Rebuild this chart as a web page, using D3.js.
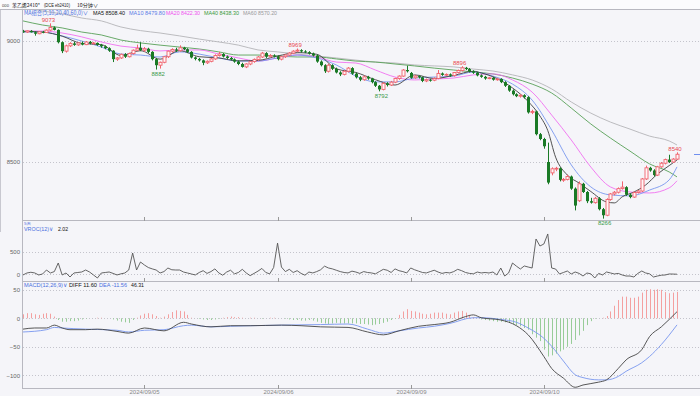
<!DOCTYPE html>
<html><head><meta charset="utf-8">
<script src="https://cdn.jsdelivr.net/npm/d3@7"></script>
<style>
body{margin:0;background:#fff;}
svg{display:block;}
text{font-family:"Liberation Sans",Arial,sans-serif;}
</style>
</head><body><svg id="c" width="700" height="396"></svg>
<script>
// ---------------- DATA ----------------
const opens=[9040,9037,9042,9036,9030,9038,9035,9045,9056,9046,
8995,8958,8980,8990,8984,8992,8985,8996,8990,8992,
8984,8978,8970,8960,8925,8930,8945,8935,8948,8962,
8972,8962,8968,8955,8925,8900,8912,8935,8958,8965,
8960,8972,8966,8955,8932,8926,8920,8910,8916,8926,
8940,8946,8936,8930,8924,8915,8905,8893,8905,8915,
8924,8934,8950,8935,8940,8937,8925,8935,8942,8950,
8958,8962,8957,8954,8948,8940,8915,8900,8875,8900,
8885,8870,8862,8875,8888,8865,8850,8840,8852,8845,
8830,8815,8800,8825,8818,8830,8845,8855,8880,8868,
8848,8855,8850,8835,8840,8838,8845,8866,8860,8862,
8857,8870,8878,8889,8884,8875,8869,8858,8852,8845,
8848,8840,8843,8830,8815,8795,8780,8772,8776,8768,
8705,8709,8615,8595,8500,8455,8472,8474,8426,8428,
8440,8390,8340,8410,8376,8338,8332,8350,8305,8280,
8345,8368,8375,8390,8396,8365,8355,8374,8380,8430,
8476,8465,8446,8480,8495,8510,8500,8512];
const highs=[9046,9044,9045,9040,9040,9042,9048,9073,9060,9048,
8998,8985,8995,8996,8995,8998,9000,9000,8996,8994,
8988,8982,8974,8962,8934,8948,8950,8952,8965,8985,
8995,8975,8972,8958,8930,8915,8938,8960,8970,8972,
8982,8976,8970,8958,8936,8930,8924,8920,8930,8945,
8955,8950,8940,8934,8928,8920,8910,8908,8918,8928,
8938,8955,8954,8946,8945,8940,8938,8946,8954,8962,
8969,8966,8962,8958,8952,8944,8920,8904,8906,8904,
8890,8875,8880,8892,8892,8870,8855,8858,8856,8848,
8834,8818,8830,8830,8835,8848,8858,8884,8898,8872,
8860,8858,8853,8845,8844,8850,8880,8870,8866,8866,
8872,8882,8896,8893,8888,8879,8873,8862,8856,8852,
8852,8848,8846,8834,8818,8800,8784,8780,8780,8772,
8716,8712,8620,8600,8580,8478,8480,8478,8434,8448,
8444,8395,8420,8414,8380,8352,8356,8355,8310,8350,
8372,8380,8395,8420,8400,8370,8378,8384,8434,8485,
8480,8470,8484,8500,8514,8530,8516,8540];
const lows=[9034,9033,9035,9022,9028,9032,9033,9042,9044,8990,
8950,8952,8975,8980,8980,8982,8983,8986,8985,8980,
8972,8966,8955,8913,8918,8926,8930,8932,8944,8958,
8958,8955,8950,8920,8882,8886,8908,8930,8952,8955,
8956,8962,8950,8928,8920,8915,8900,8905,8912,8922,
8936,8932,8926,8920,8910,8900,8890,8888,8900,8910,
8918,8930,8930,8932,8932,8920,8920,8930,8938,8946,
8954,8952,8950,8944,8936,8910,8895,8868,8870,8880,
8866,8855,8858,8870,8860,8845,8834,8836,8840,8825,
8810,8792,8796,8812,8814,8826,8840,8852,8870,8844,
8844,8845,8830,8830,8832,8834,8842,8856,8855,8852,
8853,8866,8874,8880,8870,8864,8854,8848,8840,8842,
8836,8836,8826,8810,8790,8775,8768,8766,8762,8700,
8698,8610,8590,8555,8408,8445,8462,8420,8418,8424,
8385,8300,8335,8372,8330,8328,8328,8300,8266,8276,
8340,8362,8370,8386,8360,8350,8352,8370,8376,8426,
8460,8440,8442,8476,8490,8496,8496,8508];
const closes=[9037,9042,9036,9030,9038,9035,9045,9056,9046,8995,
8958,8980,8990,8984,8992,8985,8996,8990,8992,8984,
8978,8970,8960,8925,8930,8945,8935,8948,8962,8970,
8962,8968,8955,8925,8900,8912,8935,8958,8965,8960,
8972,8966,8955,8932,8926,8920,8910,8916,8926,8940,
8946,8936,8930,8924,8915,8905,8893,8905,8915,8924,
8934,8950,8935,8940,8937,8925,8935,8942,8950,8958,
8962,8957,8954,8948,8940,8915,8900,8875,8900,8885,
8870,8862,8875,8888,8865,8850,8840,8852,8845,8830,
8815,8800,8825,8818,8830,8845,8855,8880,8875,8848,
8855,8850,8835,8840,8838,8845,8866,8860,8862,8857,
8870,8878,8889,8884,8875,8869,8858,8852,8845,8848,
8840,8843,8830,8815,8795,8780,8772,8776,8768,8705,
8709,8615,8595,8565,8415,8472,8474,8426,8428,8440,
8390,8320,8410,8376,8338,8332,8350,8305,8280,8345,
8368,8375,8390,8396,8365,8355,8374,8380,8430,8476,
8465,8446,8480,8495,8510,8500,8512,8532];

// moving averages at these bar indices
const maIdx=[0,5,10,15,20,25,30,35,40,45,50,55,60,65,70,75,80,85,90,95,100,105,110,115,120,125,130,135,140,145,150,155,160,165,167];
const ma10=[9037,9037,9021,9000,8975,8946,8942,8934,8955,8946,8930,8917,8917,8930,8942,8930,8901,8855,8831,8831,8847,8851,8855,8872,8855,8822,8756,8632,8488,8397,8364,8360,8384,8426,8479.8];
const ma20=[9041,9041,9033,9017,8996,8979,8971,8959,8963,8963,8946,8930,8917,8930,8942,8934,8913,8909,8880,8851,8839,8843,8847,8860,8864,8839,8789,8694,8591,8479,8397,8376,8372,8393,8422.3];
const ma40=[9083,9066,9054,9037,9025,9004,8992,8983,8975,8967,8955,8942,8942,8938,8934,8934,8926,8917,8913,8905,8897,8888,8880,8872,8864,8847,8822,8785,8723,8657,8599,8545,8492,8459,8438.3];
const ma60=[9140,9124,9112,9095,9083,9058,9043,9033,9021,9008,8996,8983,8963,8955,8946,8938,8930,8921,8913,8909,8901,8897,8893,8884,8876,8860,8839,8802,8748,8702,8665,8636,8607,8587,8570.2];
// MA5 read at its own (denser) points: [bar index, value]
const ma5Pts=[[0,9040],[5,9037],[10,9020],[15,8990],[20,8985],[25,8940],[30,8960],[35,8925],[40,8960],[45,8935],[50,8930],[55,8918],[60,8920],[65,8938],[70,8952],[75,8945],[80,8885],[85,8870],[90,8840],[95,8818],[100,8860],[105,8845],[110,8858],[115,8875],[117,8868],[121,8845],[125,8806],[129,8750],[132,8690],[134,8630],[136,8520],[139,8446],[142,8413],[145,8378],[149,8335],[151,8331],[153,8356],[156,8376],[159,8405],[162,8450],[165,8485],[167,8508.4]];

const vroc=[-15,29,45,30,-15,7,95,29,60,250,
-15,29,-60,29,40,51,95,50,-15,-82,
29,40,51,20,-15,10,29,95,471,95,
272,206,150,120,95,29,60,139,100,95,
95,50,29,7,-15,40,80,20,60,120,
30,-20,50,90,10,40,110,30,-30,20,
70,130,40,10,150,690,160,60,110,40,
80,20,-20,50,30,60,100,180,140,120,
90,60,40,30,70,50,20,60,40,30,
10,60,110,90,40,120,80,60,30,140,
100,70,40,30,60,90,50,20,40,30,
60,110,80,40,20,10,50,30,40,29,
51,-15,139,-38,29,250,180,117,184,161,
139,781,626,670,892,139,117,7,40,73,
7,51,20,-38,29,10,-82,20,-15,51,
30,7,20,-15,-38,-38,-60,20,73,29,
10,-60,-38,-20,-15,7,5,2.02];

const macdHist=[7,9,9,7,6,8,9,8,3,-3,
-6,-6,-5,-5,-4,-2,-1,0,0,1,
1,0,0,-2,-4,-6,-7,-8,-3,1,
5,8,9,7,4,1,3,7,11,14,
13,12,6,1,0,-1,-2,-3,-3,-2,
-1,1,2,3,2,2,1,0,1,1,
0,-1,0,1,1,0,0,-1,-2,-3,
-3,-4,-4,-3,-4,-6,-8,-9,-10,-9,
-8,-9,-9,-9,-9,-9,-10,-10,-11,-12,
-11,-10,-8,-6,-3,-1,6,12,16,13,
12,10,8,7,8,10,10,10,8,7,
10,12,13,10,6,2,0,-2,-3,-4,
-5,-6,-6,-7,-8,-10,-12,-14,-17,-20,
-28,-34,-40,-55,-67,-65,-62,-58,-55,-50,
-45,-38,-30,-22,-12,-5,-1,0,1,4,
12,22,32,38,38,36,36,38,45,50,
51,50,51,50,46,44,45,46.31];

const diffPts=[[0,-19],[3,-17],[6,-17],[8,-12],[10,-17],[12,-20],[16,-20],[19,-19],[24,-23],[27,-26],[31,-17],[36,-22],[41,-7],[43,-10],[48,-15],[53,-13],[58,-13],[66,-12],[71,-13],[76,-15],[83,-16],[88,-24],[92,-29],[96,-22],[101,-14],[105,-11],[109,-7],[113,3],[115,6],[117,1],[122,-3],[126,-13],[129,-29],[133,-67],[135,-88],[138,-105],[141,-121],[143,-117],[147,-112],[149,-108],[152,-88],[154,-73],[158,-55],[160,-32],[163,-15],[167,11.6]];
const deaPts=[[0,-24],[6,-20],[8,-16],[10,-17],[16,-19],[24,-21],[27,-24],[31,-21],[36,-20],[41,-13],[43,-12],[48,-15],[53,-14],[58,-13],[66,-12],[76,-11],[83,-10],[88,-19],[92,-26],[96,-22],[101,-17],[105,-14],[109,-9],[115,1],[117,1],[122,-2],[126,-7],[129,-17],[133,-35],[135,-49],[138,-75],[141,-99],[143,-104],[147,-108],[149,-108],[152,-102],[154,-93],[158,-78],[160,-67],[163,-46],[167,-11.56]];

const dayStarts=[31,65,99,133];
const dayLabels=["2024/09/05","2024/09/06","2024/09/09","2024/09/10"];
const peakIdx=[7,70,112,167];
const troughIdx=[34,91,148];
const mainTicks=[9000,8500], vrocTicks=[500,0], macdTicks=[50,0,-50,-100];

// ---------------- DRAW ----------------
const svg=d3.select("#c");
const L=22, R=700;
const N=closes.length;
const x=d3.scaleLinear().domain([0,N-1]).range([23,677]);
const yP=d3.scaleLinear().domain([9000,8500]).range([41,162]);
const yV=d3.scaleLinear().domain([0,500]).range([274.3,251.7]);
const yM=d3.scaleLinear().domain([0,50]).range([318.3,289.8]);
const panels={main:[10,220],vroc:[221,281],macd:[282,388]};
const CJK="'Noto Sans CJK SC',sans-serif";
const LAT="'Liberation Sans',Arial,sans-serif";

svg.append("rect").attr("width",700).attr("height",396).attr("fill","#f5f5f9");
Object.entries(panels).forEach(([k,[t,b]])=>{
  svg.append("clipPath").attr("id","cp-"+k).append("rect").attr("x",L+1).attr("y",t).attr("width",R-L).attr("height",b-t);
});

function ftext(x0,y0,w,str,color,size,fam){
  return svg.append("text").attr("x",x0).attr("y",y0).attr("font-size",size).attr("fill",color)
    .attr("textLength",w).attr("lengthAdjust","spacingAndGlyphs").style("font-family",fam||LAT).text(str);
}

// header
svg.append("rect").attr("x",0).attr("y",0).attr("width",700).attr("height",9).attr("fill","#fbfbfd");
ftext(2,6.5,7,"ooo","#555",4.5,LAT);
ftext(12,7,28,"苯乙烯2410*","#222",5,CJK);
ftext(44,7,26,"(DCE eb2410)","#222",4.6,LAT);
ftext(77,7,21,"10分钟∨","#222",5,CJK);

// panel frames
const frame=svg.append("g").attr("stroke","#b8b8c0").attr("fill","none").attr("shape-rendering","crispEdges");
frame.append("line").attr("x1",0).attr("x2",700).attr("y1",9.5).attr("y2",9.5);
[220.5,281.5,388.5].forEach(y=>frame.append("line").attr("x1",L).attr("x2",R).attr("y1",y).attr("y2",y));
frame.append("line").attr("x1",L+0.5).attr("x2",L+0.5).attr("y1",10).attr("y2",388.5);
frame.append("line").attr("x1",0.5).attr("x2",0.5).attr("y1",10).attr("y2",232).attr("stroke","#c8c8d0");

// gridlines + axis labels
function grid(ticks,scale){
  const g=svg.append("g");
  g.selectAll("line").data(ticks).join("line")
    .attr("x1",L+1).attr("x2",R).attr("y1",d=>Math.round(scale(d))+0.5).attr("y2",d=>Math.round(scale(d))+0.5)
    .attr("stroke","#c4c4cc").attr("stroke-dasharray","1,2");
  const ax=d3.axisLeft(scale).tickValues(ticks).tickSize(0).tickPadding(2).tickFormat(d3.format("d"));
  const a=svg.append("g").attr("transform",`translate(${L},0)`).call(ax);
  a.select(".domain").remove();
  a.selectAll("text").attr("font-size",6).attr("fill","#666").style("font-family",LAT);
}
grid(mainTicks,yP); grid(vrocTicks,yV); grid(macdTicks,yM);

// day ticks and labels
dayStarts.forEach((d,k)=>{
  const xx=Math.round(x(d))+0.5;
  [[217,221],[278,282],[385,389]].forEach(([a,b])=>svg.append("line").attr("x1",xx).attr("x2",xx).attr("y1",a).attr("y2",b).attr("stroke","#999"));
  svg.append("text").attr("x",xx).attr("y",394).attr("text-anchor","middle").attr("font-size",6).attr("fill","#888").text(dayLabels[k]);
});

// MA lines
const gMain=svg.append("g").attr("clip-path","url(#cp-main)");
const maLine=d3.line().x(d=>x(d[0])).y(d=>yP(d[1])).curve(d3.curveMonotoneX);
[[ma60,"#b4b4b8"],[ma40,"#58a058"],[ma20,"#f070f0"],[ma10,"#7896ee"]].forEach(([arr,c])=>{
  gMain.append("path").datum(maIdx.map((i,k)=>[i,arr[k]])).attr("d",maLine).attr("fill","none").attr("stroke",c).attr("stroke-width",0.9);
});
gMain.append("path").datum(ma5Pts).attr("d",maLine).attr("fill","none").attr("stroke","#404040").attr("stroke-width",0.9);

// candles
const RED="#f0646e", GRN="#1a7a26";
const cg=svg.append("g").attr("clip-path","url(#cp-main)");
d3.range(N).forEach(i=>{
  const up=closes[i]>=opens[i];
  const c=up?RED:GRN;
  const cx=Math.round(x(i))+0.5;
  const top=yP(Math.max(opens[i],closes[i])), bot=yP(Math.min(opens[i],closes[i]));
  cg.append("line").attr("x1",cx).attr("x2",cx).attr("y1",yP(highs[i])).attr("y2",yP(lows[i])).attr("stroke",c).attr("stroke-width",1);
  if(up){
    cg.append("rect").attr("x",cx-1.5).attr("y",top).attr("width",3).attr("height",Math.max(bot-top,0.8))
      .attr("fill","#fff5f6").attr("stroke",c).attr("stroke-width",0.9);
  }else{
    cg.append("rect").attr("x",cx-1.5).attr("y",top).attr("width",3).attr("height",Math.max(bot-top,1))
      .attr("fill",c);
  }
});

// high/low labels
peakIdx.forEach(i=>svg.append("text").attr("x",x(i)-2).attr("y",yP(highs[i])-1.2).attr("text-anchor","middle")
  .attr("font-size",6).attr("fill","#e84a50").text(highs[i]));
troughIdx.forEach(i=>svg.append("text").attr("x",x(i)+2).attr("y",yP(lows[i])+6.5).attr("text-anchor","middle")
  .attr("font-size",6).attr("fill","#3a9a4a").text(lows[i]));

// last price marker
svg.append("line").attr("x1",694).attr("x2",700).attr("y1",Math.round(yP(closes[N-1]))+0.5).attr("y2",Math.round(yP(closes[N-1]))+0.5).attr("stroke","#6f8ff0").attr("stroke-width",1);

// legend
ftext(24,14.5,64,"MA组合(5,10,20,40,60,0)∨","#4a6fe0",5.6,CJK);
ftext(93,14.5,32,"MA5 "+ma5Pts[ma5Pts.length-1][1].toFixed(2),"#111",5.6);
ftext(129,14.5,36,"MA10 "+ma10[ma10.length-1].toFixed(2),"#5b7be6",5.6);
ftext(166,14.5,34,"MA20 "+ma20[ma20.length-1].toFixed(2),"#f050f0",5.6);
ftext(204,14.5,35,"MA40 "+ma40[ma40.length-1].toFixed(2),"#3a9a3a",5.6);
ftext(243,14.5,34,"MA60 "+ma60[ma60.length-1].toFixed(2),"#999",5.6);

// VROC
const gV=svg.append("g").attr("clip-path","url(#cp-vroc)");
gV.append("path").datum(vroc).attr("d",d3.line().x((d,i)=>x(i)).y(d=>yV(d))).attr("fill","none").attr("stroke","#555").attr("stroke-width",0.9);
ftext(24,224.5,7,"5天","#4a6fe0",3.6,CJK);
ftext(24,231,29,"VROC(12)∨","#4a6fe0",5.6);
ftext(58,231,10,vroc[N-1].toFixed(2),"#111",5.6);

// MACD
const gM=svg.append("g").attr("clip-path","url(#cp-macd)");
macdHist.forEach((v,i)=>{
  const cx=Math.round(x(i))+0.5;
  gM.append("line").attr("x1",cx).attr("x2",cx).attr("y1",yM(0)).attr("y2",yM(v)).attr("stroke",v>=0?"#f4a0a0":"#98cc98").attr("stroke-width",1);
});
const mLine=d3.line().x(d=>x(d[0])).y(d=>yM(d[1])).curve(d3.curveMonotoneX);
gM.append("path").datum(deaPts).attr("d",mLine).attr("fill","none").attr("stroke","#7896ee").attr("stroke-width",0.9);
gM.append("path").datum(diffPts).attr("d",mLine).attr("fill","none").attr("stroke","#444").attr("stroke-width",0.9);
const lastDiff=diffPts[diffPts.length-1][1], lastDea=deaPts[deaPts.length-1][1];
ftext(24,287,43,"MACD(12,26,9)∨","#4a6fe0",5.6);
ftext(69,287,28,"DIFF "+lastDiff.toFixed(2),"#111",5.6);
ftext(99,287,28,"DEA "+lastDea.toFixed(2),"#4a6fe0",5.6);
ftext(131,287,13,macdHist[N-1].toFixed(2),"#111",5.6);
</script>
</body></html>
